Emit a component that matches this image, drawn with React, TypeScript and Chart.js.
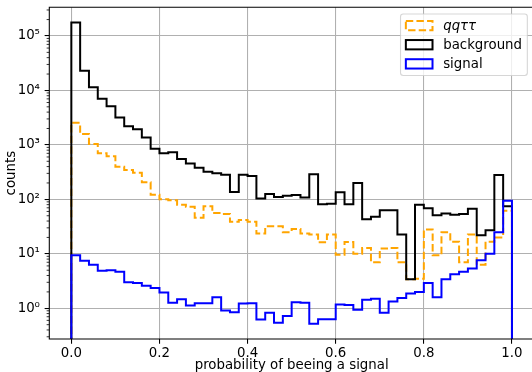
import React, { useEffect, useRef } from 'react';
import { Chart, registerables } from 'chart.js';

Chart.register(...registerables);

// ---- data (50 bins over [0, 1]) ----
const binRange = [0, 1];
const binCount = 50;

const seriesLabels = ['qqττ', 'background', 'signal'];

const qqtautau = [
  2550, 1580, 1040, 700, 620, 397, 345, 308, 207, 121,
  100, 96, 80, 73, 46, 75, 56, 54, 39, 42,
  39, 23.6, 32, 32, 25, 28.6, 23.6, 22.6, 16.3, 22.6,
  9.6, 16.5, 10, 12.8, 7, 12.5, 12.8, 7, 3.4, 3.5,
  28, 9.4, 25, 16.6, 7, 22.6, 6.3, 16.6, 20, 62,
];

const background = [
  176000, 23000, 11500, 7000, 5100, 3200, 2200, 1930, 1370, 850,
  700, 730, 550, 457, 380, 320, 300, 282, 137, 282,
  268, 104, 125, 111, 117, 120, 108, 290, 81, 83,
  135, 81, 200, 43, 48, 63, 63, 22.6, 3.4, 80,
  69, 51, 55, 52, 54, 67, 22, 27, 279, 75,
];

const signal = [
  9.4, 7.5, 6.3, 4.9, 5.0, 4.7, 3.0, 2.9, 2.6, 2.37,
  1.95, 1.26, 1.47, 1.12, 1.24, 1.24, 1.6, 0.91, 0.85, 1.22,
  1.24, 0.62, 0.83, 0.54, 0.72, 1.29, 1.27, 0.52, 0.63, 0.63,
  1.17, 1.15, 0.94, 1.43, 1.5, 0.83, 1.33, 1.55, 1.86, 2.0,
  2.9, 1.6, 3.4, 4.2, 4.7, 5.4, 7.6, 10, 25, 94,
];

const xTicks = [0, 0.2, 0.4, 0.6, 0.8, 1.0];
const yTicks = [1, 10, 100, 1000, 10000, 100000];
const yTickLabels = ['10⁰', '10¹', '10²', '10³', '10⁴', '10⁵'];

const xLabel = 'probability of beeing a signal';
const yLabel = 'counts';

// ---- styles ----
const FONT = "'DejaVu Sans', sans-serif";
const FS = 13.33;
const colors = ['#ffa500', '#000000', '#0000ff'];
const dashes = [[7.4, 3.2], [], []];
const italicLabel = [true, false, false];
const FLOOR = 1e-3;

const binEdges = Array.from(
  { length: binCount + 1 },
  (_, i) => binRange[0] + ((binRange[1] - binRange[0]) * i) / binCount
);

function stepPoints(vals: number[]) {
  const pts: { x: number; y: number }[] = [{ x: binEdges[0], y: FLOOR }];
  vals.forEach((v, i) => {
    pts.push({ x: binEdges[i], y: v });
    pts.push({ x: binEdges[i + 1], y: v });
  });
  pts.push({ x: binEdges[vals.length], y: FLOOR });
  return pts;
}

const framePlugin = {
  id: 'mplFrame',
  afterDatasetsDraw(chart: any) {
    const { ctx, chartArea } = chart;
    const { left, right, top, bottom } = chartArea;
    const y = chart.scales.y;
    ctx.save();
    ctx.strokeStyle = '#000';
    ctx.lineWidth = 0.8;
    for (let e = -1; e <= 5; e++) {
      for (let m = 2; m <= 9; m++) {
        const v = m * Math.pow(10, e);
        if (v < y.min || v > y.max) continue;
        const py = y.getPixelForValue(v);
        ctx.beginPath();
        ctx.moveTo(left - 2.67, py);
        ctx.lineTo(left, py);
        ctx.stroke();
      }
    }
    ctx.lineWidth = 1.07;
    ctx.beginPath();
    ctx.moveTo(right, top);
    ctx.lineTo(left, top);
    ctx.lineTo(left, bottom);
    ctx.lineTo(right, bottom);
    ctx.stroke();
    ctx.restore();
  },
  afterDraw(chart: any) {
    const { ctx, chartArea } = chart;
    const borderPad = 0.4 * FS;
    const axesPad = 0.5 * FS;
    const handleLen = 2 * FS;
    const handleH = 0.7 * FS;
    const textPad = 0.8 * FS;
    const spacing = 0.5 * FS;
    const textH = 12.5;
    ctx.save();
    let maxW = 0;
    seriesLabels.forEach((lab, i) => {
      ctx.font = `${italicLabel[i] ? 'italic ' : ''}${FS}px ${FONT}`;
      maxW = Math.max(maxW, ctx.measureText(lab).width);
    });
    const w = borderPad * 2 + handleLen + textPad + maxW;
    const h = borderPad * 2 + textH * seriesLabels.length + spacing * (seriesLabels.length - 1);
    const right = chartArea.right - axesPad;
    const left = right - w;
    const top = chartArea.top + axesPad;
    const r = 2.7;
    ctx.beginPath();
    ctx.moveTo(left + r, top);
    ctx.lineTo(left + w - r, top);
    ctx.arcTo(left + w, top, left + w, top + r, r);
    ctx.lineTo(left + w, top + h - r);
    ctx.arcTo(left + w, top + h, left + w - r, top + h, r);
    ctx.lineTo(left + r, top + h);
    ctx.arcTo(left, top + h, left, top + h - r, r);
    ctx.lineTo(left, top + r);
    ctx.arcTo(left, top, left + r, top, r);
    ctx.closePath();
    ctx.fillStyle = 'rgba(255,255,255,0.8)';
    ctx.fill();
    ctx.strokeStyle = 'rgba(204,204,204,0.8)';
    ctx.lineWidth = 1.07;
    ctx.stroke();
    seriesLabels.forEach((lab, i) => {
      const cy = top + borderPad + textH / 2 + i * (textH + spacing);
      ctx.strokeStyle = colors[i];
      ctx.lineWidth = 2;
      ctx.setLineDash(dashes[i]);
      ctx.strokeRect(left + borderPad, cy - handleH / 2, handleLen, handleH);
      ctx.setLineDash([]);
      ctx.fillStyle = '#000';
      ctx.font = `${italicLabel[i] ? 'italic ' : ''}${FS}px ${FONT}`;
      ctx.textBaseline = 'middle';
      ctx.textAlign = 'left';
      ctx.fillText(lab, left + borderPad + handleLen + textPad, cy + 1);
    });
    ctx.restore();
  },
};

export default function App() {
  const ref = useRef<HTMLCanvasElement>(null);
  useEffect(() => {
    document.body.style.margin = '0';
    const series = [qqtautau, background, signal];
    const chart = new Chart(ref.current as HTMLCanvasElement, {
      type: 'line',
      data: {
        datasets: series.map((vals, i) => ({
          label: seriesLabels[i],
          data: stepPoints(vals),
          borderColor: colors[i],
          backgroundColor: 'transparent',
          borderWidth: 2,
          borderDash: dashes[i],
          pointRadius: 0,
          tension: 0,
          fill: false,
          borderJoinStyle: 'miter',
          borderCapStyle: 'butt',
          order: series.length - i,
        })),
      },
      options: {
        responsive: false,
        animation: false,
        events: [],
        layout: { padding: { top: 7.3, right: 6, left: 0, bottom: 0 } },
        plugins: { legend: { display: false }, tooltip: { enabled: false } },
        scales: {
          x: {
            type: 'linear',
            min: -0.05,
            max: 1.05,
            afterBuildTicks: (s: any) => {
              s.ticks = xTicks.map((v) => ({ value: v }));
            },
            afterFit: (s: any) => {
              s.height = 33;
              s.paddingLeft = 0;
              s.paddingRight = 0;
            },
            ticks: {
              callback: (v: any) => Number(v).toFixed(1),
              color: '#000',
              font: { family: FONT, size: FS },
              padding: 2,
              maxRotation: 0,
              autoSkip: false,
            },
            grid: {
              color: '#b0b0b0',
              lineWidth: 1.07,
              tickLength: 4.67,
              tickColor: '#000',
              tickWidth: 1.07,
            },
            border: { display: false },
            title: {
              display: true,
              text: xLabel,
              color: '#000',
              font: { family: FONT, size: FS, lineHeight: 1 },
              padding: { top: 0, bottom: 0 },
            },
          },
          y: {
            type: 'logarithmic',
            min: 0.273,
            max: 336000,
            afterBuildTicks: (s: any) => {
              s.ticks = yTicks.map((v) => ({ value: v, major: true }));
            },
            afterFit: (s: any) => {
              s.width = 49.3;
              s.paddingTop = 0;
              s.paddingBottom = 0;
            },
            ticks: {
              callback: (_v: any, idx: number) => yTickLabels[idx],
              color: '#000',
              font: { family: FONT, size: FS },
              padding: 4.67,
              autoSkip: false,
            },
            grid: {
              color: '#b0b0b0',
              lineWidth: 1.07,
              tickLength: 4.67,
              tickColor: '#000',
              tickWidth: 1.07,
            },
            border: { display: false },
            title: {
              display: true,
              text: yLabel,
              color: '#000',
              font: { family: FONT, size: FS, lineHeight: 1 },
              padding: { top: 5.3, bottom: 0 },
            },
          },
        },
      } as any,
      plugins: [framePlugin],
    });
    return () => chart.destroy();
  }, []);
  return (
    <div style={{ width: 532, height: 372, overflow: 'hidden' }}>
      <canvas ref={ref} width={540} height={372} style={{ width: 540, height: 372, display: 'block' }} />
    </div>
  );
}
